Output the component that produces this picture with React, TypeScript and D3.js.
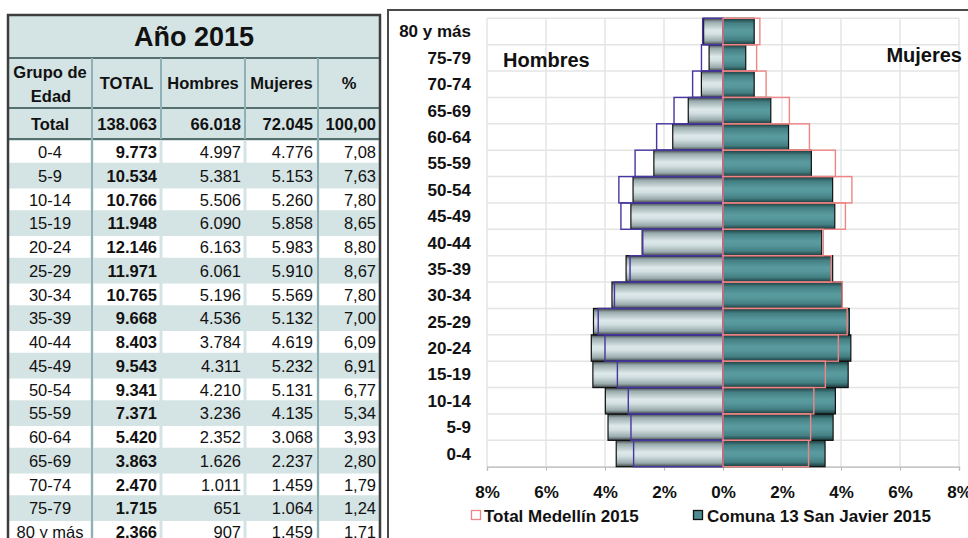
import React, { Component } from "react"
import * as d3 from "d3"

// grupos de edad, de 0-4 a 80 y más
const grupos = ["0-4", "5-9", "10-14", "15-19", "20-24", "25-29", "30-34", "35-39", "40-44", "45-49", "50-54", "55-59", "60-64", "65-69", "70-74", "75-79", "80 y más"]
const totalGrupo = [9773, 10534, 10766, 11948, 12146, 11971, 10765, 9668, 8403, 9543, 9341, 7371, 5420, 3863, 2470, 1715, 2366]
const hombres = [4997, 5381, 5506, 6090, 6163, 6061, 5196, 4536, 3784, 4311, 4210, 3236, 2352, 1626, 1011, 651, 907]
const mujeres = [4776, 5153, 5260, 5858, 5983, 5910, 5569, 5132, 4619, 5232, 5131, 4135, 3068, 2237, 1459, 1064, 1459]
const porcentaje = [7.08, 7.63, 7.8, 8.65, 8.8, 8.67, 7.8, 7.0, 6.09, 6.91, 6.77, 5.34, 3.93, 2.8, 1.79, 1.24, 1.71]
const totales = [138063, 66018, 72045, 100]

// Total Medellín 2015 (%)
const medellinHombres = [3.03, 3.12, 3.21, 3.58, 4.0, 4.23, 3.68, 3.15, 2.72, 3.46, 3.53, 2.98, 2.25, 1.66, 1.03, 0.73, 0.69]
const medellinMujeres = [2.9, 2.97, 3.08, 3.47, 3.91, 4.21, 4.04, 3.67, 3.4, 4.15, 4.37, 3.81, 2.93, 2.25, 1.46, 1.14, 1.25]

const ticksX = [-8, -6, -4, -2, 0, 2, 4, 6, 8]
const encabezados = ["TOTAL", "Hombres", "Mujeres", "%"]

const es = d3.formatLocale({ decimal: ",", thousands: ".", grouping: [3], currency: ["$", ""] })
const fmtInt = es.format(",d")
const fmtPct = es.format(".2f")

const FONT = "Liberation Sans, Arial, Helvetica, sans-serif"

class App extends Component {
	mount: any

	componentDidMount() {
		const svg = d3.select(this.mount)
		svg.selectAll("*").remove()
		this.drawTable(svg)
		this.drawPyramid(svg)
	}

	drawTable(svg) {
		const g = svg.append("g").style("font-family", FONT).attr("fill", "#111")
		const left = 8
		const right = 380
		const colEdges = [8, 92, 161, 245, 318, 380]
		const bg = "#d4e3e3"
		const line = "#8fb1b5"

		g.append("rect").attr("x", left).attr("y", 15).attr("width", right - left).attr("height", 540).attr("fill", bg)

		// titulo
		g.append("text")
			.attr("x", (left + right) / 2)
			.attr("y", 46)
			.attr("text-anchor", "middle")
			.style("font-size", "27px")
			.style("font-weight", "bold")
			.text("Año 2015")

		// encabezado
		const head = g.append("g").style("font-size", "16.5px").style("font-weight", "bold")
		head.append("text").attr("x", 50).attr("y", 78).attr("text-anchor", "middle").text("Grupo de")
		head.append("text").attr("x", 51).attr("y", 102).attr("text-anchor", "middle").text("Edad")
		encabezados.forEach((h, i) => {
			head.append("text")
				.attr("x", (colEdges[i + 1] + colEdges[i + 2]) / 2)
				.attr("y", 89)
				.attr("text-anchor", "middle")
				.text(h)
		})

		// fila total
		const rowTotal = g.append("g").style("font-size", "16.5px").style("font-weight", "bold")
		rowTotal.append("text").attr("x", 50).attr("y", 130).attr("text-anchor", "middle").text("Total")
		const rightX = [157, 241, 313, 376]
		totales.forEach((v, i) => {
			rowTotal.append("text")
				.attr("x", rightX[i])
				.attr("y", 130)
				.attr("text-anchor", "end")
				.text(i === 3 ? fmtPct(v) : fmtInt(v))
		})

		// filas de datos
		const rowH = 23.75
		const top0 = 140
		const rows = g.selectAll("g.fila").data(grupos).enter().append("g").attr("class", "fila")
			.attr("transform", (d, i) => `translate(0, ${top0 + i * rowH})`)

		rows.each(function (d, i) {
			const r = d3.select(this)
			if (i % 2 === 0) {
				for (let c = 0; c < 5; c++) {
					r.append("rect")
						.attr("x", colEdges[c] + (c === 0 ? 1 : 1.5))
						.attr("y", 1)
						.attr("width", colEdges[c + 1] - colEdges[c] - (c === 0 ? 2.5 : 3))
						.attr("height", rowH - 2)
						.attr("fill", "#fff")
				}
			}
			r.append("text").attr("x", 50).attr("y", 18).attr("text-anchor", "middle").style("font-size", "16.5px").text(d)
			r.append("text").attr("x", rightX[0]).attr("y", 18).attr("text-anchor", "end").style("font-size", "16.5px").style("font-weight", "bold").text(fmtInt(totalGrupo[i]))
			r.append("text").attr("x", rightX[1]).attr("y", 18).attr("text-anchor", "end").style("font-size", "16.5px").text(fmtInt(hombres[i]))
			r.append("text").attr("x", rightX[2]).attr("y", 18).attr("text-anchor", "end").style("font-size", "16.5px").text(fmtInt(mujeres[i]))
			r.append("text").attr("x", rightX[3]).attr("y", 18).attr("text-anchor", "end").style("font-size", "16.5px").text(fmtPct(porcentaje[i]))
		})

		// lineas
		const dark = "#55706f"
		;[58, 108, 139].forEach(y => {
			g.append("line").attr("x1", left).attr("x2", right).attr("y1", y).attr("y2", y).attr("stroke", dark).attr("stroke-width", 2)
		})
		;[92, 161, 245, 318].forEach(x => {
			g.append("line").attr("x1", x).attr("x2", x).attr("y1", 58).attr("y2", 139).attr("stroke", line).attr("stroke-width", 2)
		})
		;[92, 318].forEach(x => {
			g.append("line").attr("x1", x).attr("x2", x).attr("y1", 139).attr("y2", 560).attr("stroke", line).attr("stroke-width", 2)
		})
		g.append("rect").attr("x", left).attr("y", 15).attr("width", right - left).attr("height", 540)
			.attr("fill", "none").attr("stroke", "#3d3d3d").attr("stroke-width", 2.5)
	}

	drawPyramid(svg) {
		const g = svg.append("g").style("font-family", FONT)
		const total = totales[0]
		const comunaH = hombres.map(v => (v / total) * 100)
		const comunaM = mujeres.map(v => (v / total) * 100)

		// panel
		g.append("rect").attr("x", 388).attr("y", 10).attr("width", 620).attr("height", 600)
			.attr("fill", "#fff").attr("stroke", "#4a4a4a").attr("stroke-width", 2)

		const x = d3.scaleLinear().domain([-8, 8]).range([487, 959])
		const y = d3.scaleBand().domain(grupos.slice().reverse()).range([18.3, 466.7]).padding(0)

		const defs = svg.append("defs")
		const gradH = defs.append("linearGradient").attr("id", "gradH").attr("x1", 0).attr("x2", 0).attr("y1", 0).attr("y2", 1)
		;[["0%", "#3f4546"], ["14%", "#9aabad"], ["45%", "#dde8e9"], ["60%", "#d3e0e1"], ["86%", "#9aabad"], ["100%", "#3f4546"]].forEach(s => {
			gradH.append("stop").attr("offset", s[0]).attr("stop-color", s[1])
		})
		const gradM = defs.append("linearGradient").attr("id", "gradM").attr("x1", 0).attr("x2", 0).attr("y1", 0).attr("y2", 1)
		;[["0%", "#1c3a3c"], ["18%", "#437f83"], ["45%", "#5a9b9f"], ["60%", "#56979b"], ["82%", "#437f83"], ["100%", "#1c3a3c"]].forEach(s => {
			gradM.append("stop").attr("offset", s[0]).attr("stop-color", s[1])
		})

		// grid
		g.selectAll("line.gv").data(ticksX).enter().append("line")
			.attr("x1", d => x(d)).attr("x2", d => x(d))
			.attr("y1", y.range()[0]).attr("y2", y.range()[1])
			.attr("stroke", "#e4e4e4").attr("stroke-width", 1.5)
		const bounds = grupos.map(gr => y(gr)).concat([y.range()[1]])
		g.selectAll("line.gh").data(bounds).enter().append("line")
			.attr("x1", x(-8)).attr("x2", x(8))
			.attr("y1", d => d).attr("y2", d => d)
			.attr("stroke", "#e4e4e4").attr("stroke-width", 1.5)

		// eje x
		const axis = g.append("g").attr("transform", `translate(0, ${y.range()[1]})`)
			.call(d3.axisBottom(x).tickValues(ticksX).tickSize(4).tickFormat(d => Math.abs(d) + "%"))
		axis.select(".domain").attr("stroke", "#c8c8c8").attr("stroke-width", 1.5)
		axis.selectAll(".tick line").attr("stroke", "#bbb")
		axis.selectAll(".tick text")
			.attr("y", 31).attr("dy", 0)
			.attr("fill", "#111")
			.style("font-family", FONT).style("font-size", "17px").style("font-weight", "bold")

		// barras comuna 13
		g.selectAll("rect.h").data(grupos).enter().append("rect")
			.attr("x", (d, i) => x(-comunaH[i])).attr("y", d => y(d))
			.attr("width", (d, i) => x(0) - x(-comunaH[i])).attr("height", y.bandwidth())
			.attr("fill", "url(#gradH)").attr("stroke", "#111").attr("stroke-width", 1.2)
		g.selectAll("rect.m").data(grupos).enter().append("rect")
			.attr("x", x(0)).attr("y", d => y(d))
			.attr("width", (d, i) => x(comunaM[i]) - x(0)).attr("height", y.bandwidth())
			.attr("fill", "url(#gradM)").attr("stroke", "#111").attr("stroke-width", 1.2)

		// Total Medellín (contornos)
		g.selectAll("rect.mh").data(grupos).enter().append("rect")
			.attr("x", (d, i) => x(-medellinHombres[i])).attr("y", d => y(d))
			.attr("width", (d, i) => x(0) - x(-medellinHombres[i])).attr("height", y.bandwidth())
			.attr("fill", "none").attr("stroke", "#4636a0").attr("stroke-width", 1.4)
		g.selectAll("rect.mm").data(grupos).enter().append("rect")
			.attr("x", x(0)).attr("y", d => y(d))
			.attr("width", (d, i) => x(medellinMujeres[i]) - x(0)).attr("height", y.bandwidth())
			.attr("fill", "none").attr("stroke", "#ef8585").attr("stroke-width", 1.4)

		// etiquetas de grupos
		g.selectAll("text.cat").data(grupos).enter().append("text")
			.attr("x", 471).attr("y", d => y(d) + y.bandwidth() / 2 + 6)
			.attr("text-anchor", "end")
			.attr("fill", "#111")
			.style("font-size", "17px").style("font-weight", "bold")
			.text(d => d)

		g.append("text").attr("x", 503).attr("y", 67).attr("fill", "#111")
			.style("font-size", "20px").style("font-weight", "bold").text("Hombres")
		g.append("text").attr("x", 962).attr("y", 62).attr("text-anchor", "end").attr("fill", "#111")
			.style("font-size", "20px").style("font-weight", "bold").text("Mujeres")

		// leyenda
		g.append("rect").attr("x", 471.5).attr("y", 510.5).attr("width", 9).attr("height", 9)
			.attr("fill", "#fff").attr("stroke", "#ef8585").attr("stroke-width", 1.3)
		g.append("text").attr("x", 484).attr("y", 521.5).attr("fill", "#111")
			.style("font-size", "17px").style("font-weight", "bold").text("Total Medellín 2015")
		g.append("rect").attr("x", 693.5).attr("y", 510.5).attr("width", 9).attr("height", 9)
			.attr("fill", "#4d8d91").attr("stroke", "#111").attr("stroke-width", 1.3)
		g.append("text").attr("x", 707).attr("y", 521.5).attr("fill", "#111")
			.style("font-size", "17px").style("font-weight", "bold").text("Comuna 13 San Javier 2015")
	}

	render() {
		return (
			<div style={{ position: "absolute", left: 0, top: 0 }}>
				<svg ref={ref => (this.mount = ref)} width={968} height={538} style={{ display: "block", background: "#fff" }}></svg>
			</div>
		)
	}
}

export default App
